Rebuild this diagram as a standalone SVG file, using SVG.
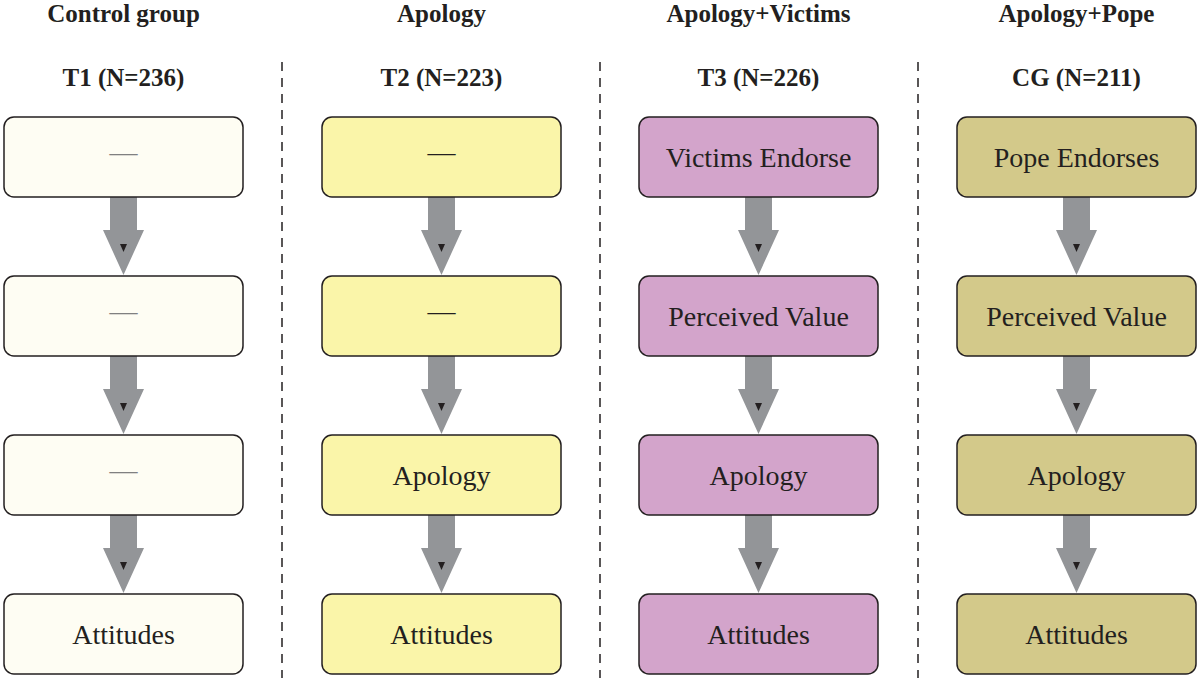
<svg xmlns="http://www.w3.org/2000/svg" xmlns:xlink="http://www.w3.org/1999/xlink" width="1200" height="678" viewBox="0 0 1200 678">
<style>
.title{font-family:"Liberation Serif","Times New Roman",serif;font-weight:bold;font-size:25px;fill:#231f20;text-anchor:middle}
.lbl{font-family:"Liberation Serif","Times New Roman",serif;font-size:28px;fill:#231f20;text-anchor:middle}
.dash{font-family:"Liberation Serif","Times New Roman",serif;font-size:28px;text-anchor:middle}
.box{stroke:#231f20;stroke-width:1.5}
.c1{fill:#fefdf3}.c2{fill:#faf5a9}.c3{fill:#d3a4cb}.c4{fill:#d3c98a}
.sep{stroke:#231f20;stroke-width:1.5;stroke-dasharray:9 7;fill:none}
</style>
<defs>
<g id="arr">
<path d="M-13.5,80 H13.5 V113 H20.5 L0,158 L-20.5,113 H-13.5 Z" fill="#939598"/>
<path d="M-3.5,127 H3.5 L0,135 Z" fill="#231f20"/>
</g>
</defs>
<rect width="1200" height="678" fill="#fff"/>
<g id="headers">
<text class="title" x="123.5" y="22">Control group</text>
<text class="title" x="441.5" y="22">Apology</text>
<text class="title" x="758.5" y="22">Apology+Victims</text>
<text class="title" x="1076.5" y="22">Apology+Pope</text>
<text class="title" x="123.5" y="86">T1 (N=236)</text>
<text class="title" x="441.5" y="86">T2 (N=223)</text>
<text class="title" x="758.5" y="86">T3 (N=226)</text>
<text class="title" x="1076.5" y="86">CG (N=211)</text>
</g>
<g id="separators">
<line class="sep" x1="282" y1="62" x2="282" y2="678"/>
<line class="sep" x1="600" y1="62" x2="600" y2="678"/>
<line class="sep" x1="918" y1="62" x2="918" y2="678"/>
</g>
<g id="connectors">
<use xlink:href="#arr" href="#arr" x="123.5" y="117"/>
<use xlink:href="#arr" href="#arr" x="123.5" y="276"/>
<use xlink:href="#arr" href="#arr" x="123.5" y="435"/>
<use xlink:href="#arr" href="#arr" x="441.5" y="117"/>
<use xlink:href="#arr" href="#arr" x="441.5" y="276"/>
<use xlink:href="#arr" href="#arr" x="441.5" y="435"/>
<use xlink:href="#arr" href="#arr" x="758.5" y="117"/>
<use xlink:href="#arr" href="#arr" x="758.5" y="276"/>
<use xlink:href="#arr" href="#arr" x="758.5" y="435"/>
<use xlink:href="#arr" href="#arr" x="1076.5" y="117"/>
<use xlink:href="#arr" href="#arr" x="1076.5" y="276"/>
<use xlink:href="#arr" href="#arr" x="1076.5" y="435"/>
</g>
<g id="t1-n1"><rect class="box c1" x="4" y="117" width="239" height="80" rx="10"/><text class="dash" x="123.5" y="161" fill="#808080">—</text></g>
<g id="t1-n2"><rect class="box c1" x="4" y="276" width="239" height="80" rx="10"/><text class="dash" x="123.5" y="320" fill="#808080">—</text></g>
<g id="t1-n3"><rect class="box c1" x="4" y="435" width="239" height="80" rx="10"/><text class="dash" x="123.5" y="479" fill="#808080">—</text></g>
<g id="t1-n4"><rect class="box c1" x="4" y="594" width="239" height="80" rx="10"/><text class="lbl" x="123.5" y="643.5">Attitudes</text></g>
<g id="t2-n1"><rect class="box c2" x="322" y="117" width="239" height="80" rx="10"/><text class="dash" x="441.5" y="161" fill="#231f20">—</text></g>
<g id="t2-n2"><rect class="box c2" x="322" y="276" width="239" height="80" rx="10"/><text class="dash" x="441.5" y="320" fill="#231f20">—</text></g>
<g id="t2-n3"><rect class="box c2" x="322" y="435" width="239" height="80" rx="10"/><text class="lbl" x="441.5" y="484.5">Apology</text></g>
<g id="t2-n4"><rect class="box c2" x="322" y="594" width="239" height="80" rx="10"/><text class="lbl" x="441.5" y="643.5">Attitudes</text></g>
<g id="t3-n1"><rect class="box c3" x="639" y="117" width="239" height="80" rx="10"/><text class="lbl" x="758.5" y="166.5">Victims Endorse</text></g>
<g id="t3-n2"><rect class="box c3" x="639" y="276" width="239" height="80" rx="10"/><text class="lbl" x="758.5" y="325.5">Perceived Value</text></g>
<g id="t3-n3"><rect class="box c3" x="639" y="435" width="239" height="80" rx="10"/><text class="lbl" x="758.5" y="484.5">Apology</text></g>
<g id="t3-n4"><rect class="box c3" x="639" y="594" width="239" height="80" rx="10"/><text class="lbl" x="758.5" y="643.5">Attitudes</text></g>
<g id="cg-n1"><rect class="box c4" x="957" y="117" width="239" height="80" rx="10"/><text class="lbl" x="1076.5" y="166.5">Pope Endorses</text></g>
<g id="cg-n2"><rect class="box c4" x="957" y="276" width="239" height="80" rx="10"/><text class="lbl" x="1076.5" y="325.5">Perceived Value</text></g>
<g id="cg-n3"><rect class="box c4" x="957" y="435" width="239" height="80" rx="10"/><text class="lbl" x="1076.5" y="484.5">Apology</text></g>
<g id="cg-n4"><rect class="box c4" x="957" y="594" width="239" height="80" rx="10"/><text class="lbl" x="1076.5" y="643.5">Attitudes</text></g>
</svg>
